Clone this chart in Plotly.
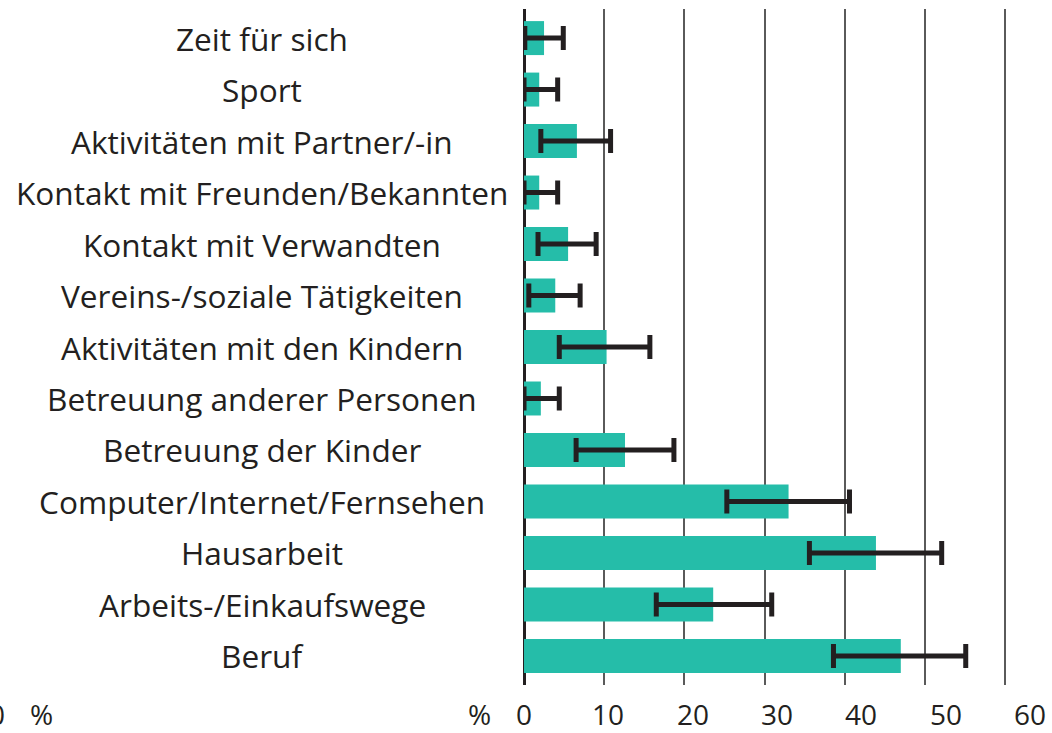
import plotly.graph_objects as go

categories = [
    "Zeit für sich", "Sport", "Aktivitäten mit Partner/-in",
    "Kontakt mit Freunden/Bekannten", "Kontakt mit Verwandten",
    "Vereins-/soziale Tätigkeiten", "Aktivitäten mit den Kindern",
    "Betreuung anderer Personen", "Betreuung der Kinder",
    "Computer/Internet/Fernsehen", "Hausarbeit",
    "Arbeits-/Einkaufswege", "Beruf",
]
values = [2.5, 1.9, 6.6, 1.9, 5.5, 3.9, 10.3, 2.1, 12.6, 33.0, 43.9, 23.6, 47.0]
ci_low = [0.1, 0.0, 2.1, 0.0, 1.75, 0.6, 4.4, 0.0, 6.5, 25.3, 35.6, 16.5, 38.6]
ci_high = [4.9, 4.2, 10.8, 4.2, 9.0, 7.0, 15.7, 4.4, 18.7, 40.6, 52.1, 30.9, 55.1]
tick_values = [0, 10, 20, 30, 40, 50, 60]

W, H = 1052, 733
L, R, T, B = 524, 0, 9, 48
px_per_unit = 8.017
x_max = (W - L - R) / px_per_unit
plot_w = W - L - R
plot_h = H - T - B
label_y = -(714 - (H - B)) / plot_h

TEAL = "#25BDA9"
INK = "#231F20"
FONT = "Open Sans"

fig = go.Figure()
fig.add_trace(go.Bar(
    y=categories, x=values, orientation="h",
    marker=dict(color=TEAL, line=dict(width=0)),
    width=0.66,
    error_x=dict(
        type="data", symmetric=False,
        array=[h - v for h, v in zip(ci_high, values)],
        arrayminus=[v - l for v, l in zip(values, ci_low)],
        color=INK, thickness=5, width=12,
    ),
    showlegend=False,
))

annotations = []
for c in categories:
    annotations.append(dict(
        x=(262 - L) / plot_w, xref="paper", y=c, yref="y",
        text=c, showarrow=False, xanchor="center", yanchor="middle",
        font=dict(family=FONT, size=31.6, color=INK),
    ))
# tick labels (slightly wider spacing than gridlines, as in the original)
for v in tick_values:
    annotations.append(dict(
        x=v * 1.0524, xref="x", y=label_y, yref="paper",
        text=str(v), showarrow=False, xanchor="center", yanchor="middle",
        font=dict(family=FONT, size=28, color=INK),
    ))
for txt, px in [("%", 479), ("%", 41), ("0", -3)]:
    annotations.append(dict(
        x=(px - L) / plot_w, xref="paper", y=label_y, yref="paper",
        text=txt, showarrow=False, xanchor="center", yanchor="middle",
        font=dict(family=FONT, size=28, color=INK),
    ))

fig.update_layout(
    width=W, height=H,
    margin=dict(l=L, r=R, t=T, b=B, pad=0),
    paper_bgcolor="white", plot_bgcolor="white",
    annotations=annotations,
    xaxis=dict(
        range=[0, x_max], tickvals=tick_values, showticklabels=False,
        showgrid=True, gridcolor="#5A5A5A", gridwidth=1.6,
        zeroline=True, zerolinecolor=INK, zerolinewidth=2.5,
        showline=False, ticks="",
    ),
    yaxis=dict(
        range=[12.565, -0.565], showticklabels=False, showgrid=False,
        zeroline=False, showline=False, ticks="",
    ),
)

fig.write_html(
    "out.html",
    config={"displayModeBar": False},
    post_script="document.body.style.margin='0';document.body.style.overflow='hidden';",
)
